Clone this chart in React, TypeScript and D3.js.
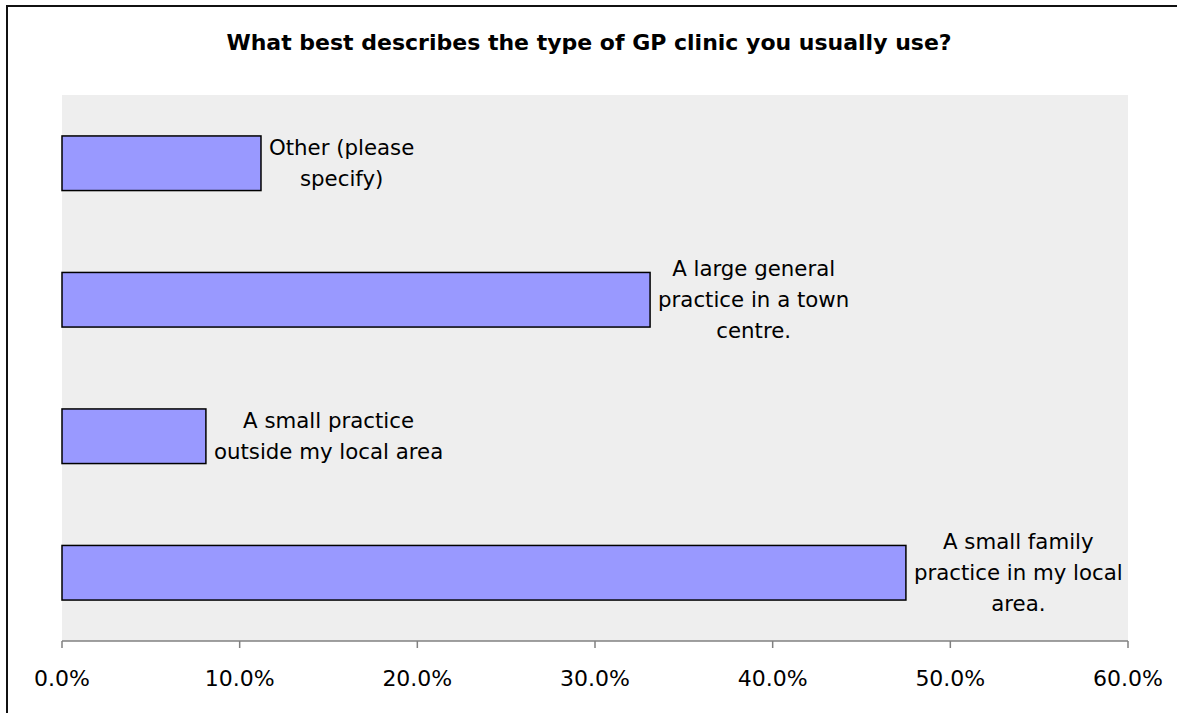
import React, { useEffect, useRef } from "react";
import * as d3 from "d3";

const TITLE = "What best describes the type of GP clinic you usually use?";
const categories = [
  "Other (please specify)",
  "A large general practice in a town centre.",
  "A small practice outside my local area",
  "A small family practice in my local area.",
];
const labelLines = [
  ["Other (please", "specify)"],
  ["A large general", "practice in a town", "centre."],
  ["A small practice", "outside my local area"],
  ["A small family", "practice in my local", "area."],
];
const values = [0.112, 0.331, 0.081, 0.475];
const ticks = [0, 0.1, 0.2, 0.3, 0.4, 0.5, 0.6];

const W = 1177;
const H = 713;
const FONT = "'DejaVu Sans', Verdana, sans-serif";

export default function App() {
  const ref = useRef<SVGSVGElement>(null);
  useEffect(() => {
    const svg = d3.select(ref.current);
    svg.selectAll("*").remove();
    const left = 62, right = 1128, top = 95, bottom = 641;
    const x = d3.scaleLinear().domain([0, 0.6]).range([left, right]);
    const y = d3.scaleBand().domain(categories).range([top, bottom]).paddingInner(0.6).paddingOuter(0.3);

    svg.append("rect").attr("x", 0).attr("y", 0).attr("width", W).attr("height", H).attr("fill", "#fff");
    svg.append("rect").attr("x", 7).attr("y", 6).attr("width", W + 20).attr("height", H + 20)
      .attr("fill", "none").attr("stroke", "#111").attr("stroke-width", 2);

    svg.append("text").attr("x", 589).attr("y", 50).attr("text-anchor", "middle")
      .attr("font-family", FONT).attr("font-weight", "bold").attr("font-size", 22).attr("fill", "#000")
      .text(TITLE);

    svg.append("rect").attr("x", left).attr("y", top).attr("width", right - left).attr("height", bottom - top)
      .attr("fill", "#EEEEEE");

    // bars
    svg.selectAll("rect.bar").data(categories).enter().append("rect").attr("class", "bar")
      .attr("x", x(0)).attr("y", (d) => y(d)!)
      .attr("width", (d, i) => x(values[i]) - x(0)).attr("height", y.bandwidth())
      .attr("fill", "#9999FF").attr("stroke", "#000").attr("stroke-width", 1.5);

    // labels
    categories.forEach((c, i) => {
      const lines = labelLines[i];
      const lh = 31;
      const g = svg.append("g");
      const t = g.append("text").attr("font-family", FONT).attr("font-size", 21.3).attr("fill", "#000")
        .attr("text-anchor", "middle");
      const cy = y(c)! + y.bandwidth() / 2;
      const y0 = cy - ((lines.length - 1) * lh) / 2 + 7;
      const spans = lines.map((ln, k) => t.append("tspan").attr("y", y0 + k * lh).text(ln));
      let maxW = 0;
      spans.forEach((s) => { maxW = Math.max(maxW, (s.node() as SVGTSpanElement).getComputedTextLength()); });
      const cx = x(values[i]) + 8 + maxW / 2;
      spans.forEach((s) => s.attr("x", cx));
    });

    // axis
    const axis = svg.append("g").attr("transform", `translate(0,${bottom})`);
    axis.append("line").attr("x1", left).attr("x2", right).attr("y1", 0).attr("y2", 0)
      .attr("stroke", "#808080").attr("stroke-width", 1.5);
    ticks.forEach((tk) => {
      axis.append("line").attr("x1", x(tk)).attr("x2", x(tk)).attr("y1", 0).attr("y2", 7)
        .attr("stroke", "#808080").attr("stroke-width", 1.5);
      axis.append("text").attr("x", x(tk)).attr("y", 45).attr("text-anchor", "middle")
        .attr("font-family", FONT).attr("font-size", 22).attr("fill", "#000")
        .text(d3.format(".1%")(tk));
    });
  }, []);
  return (
    <svg ref={ref} width={W} height={H} style={{ position: "absolute", left: 0, top: 0, display: "block" }} />
  );
}
